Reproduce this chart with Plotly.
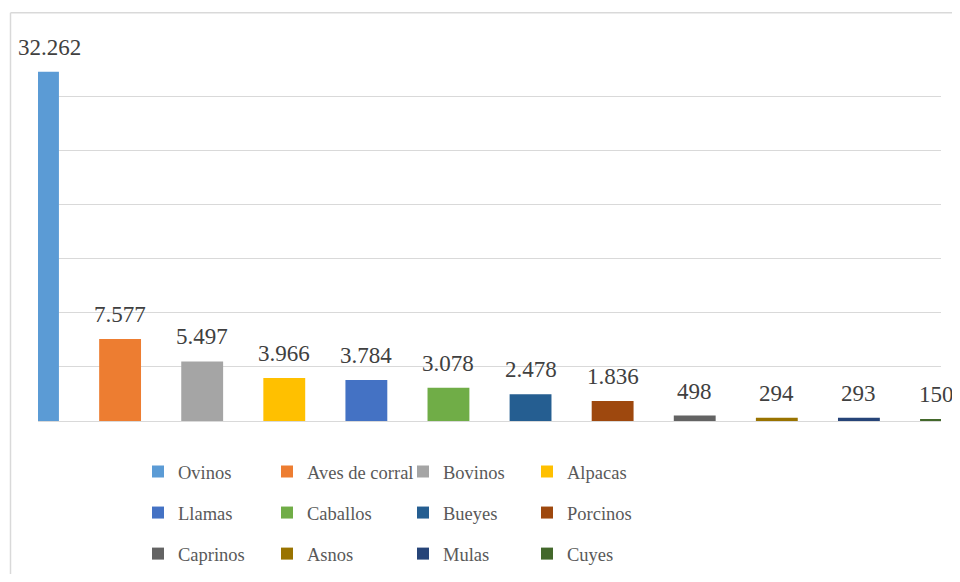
import plotly.graph_objects as go

categories = ["Ovinos", "Aves de corral", "Bovinos", "Alpacas", "Llamas", "Caballos",
              "Bueyes", "Porcinos", "Caprinos", "Asnos", "Mulas", "Cuyes"]
values = [32262, 7577, 5497, 3966, 3784, 3078, 2478, 1836, 498, 294, 293, 150]
value_labels = ["32.262", "7.577", "5.497", "3.966", "3.784", "3.078",
                "2.478", "1.836", "498", "294", "293", "150"]
colors = ["#5B9BD5", "#ED7D31", "#A5A5A5", "#FFC000", "#4472C4", "#70AD47",
          "#255E91", "#9E480E", "#636363", "#997300", "#264478", "#43682B"]

FONT = "Liberation Serif, Times New Roman, serif"
legend_ids = ["legend", "legend2", "legend3", "legend4"]   # one per legend column

# the page body has an 8px margin on every side; size the figure to fit exactly
OFF = 8
FIG_W, FIG_H = 960 - 2 * OFF, 582 - 2 * OFF

fig = go.Figure()
for i, (cat, val, col) in enumerate(zip(categories, values, colors)):
    fig.add_trace(go.Bar(
        x=[cat], y=[val], name=cat, width=0.51,
        marker=dict(color=col, line=dict(width=0)),
        legend=legend_ids[i % 4], legendgroup=cat,
        hoverinfo="x+y",
    ))

n = len(categories)
annotations = []
for i, (cat, val, lab) in enumerate(zip(categories, values, value_labels)):
    shift = 11 if i == 0 else (-5 if i == n - 1 else 0)
    annotations.append(dict(
        x=cat, y=val, xref="x", yref="y", text=lab, showarrow=False,
        yanchor="bottom", xanchor="center", yshift=10, xshift=shift,
        font=dict(family=FONT, size=23, color="#404040"),
    ))

# plot area in page pixels: x 38..941, y 41.7..421
PL, PR, PT, PB = 38, 941, 41.7, 421
plot_w = PR - PL
plot_h = PB - PT

def px_x(p):
    return (p - PL) / plot_w

def px_y(p):
    return (PB - p) / plot_h

legend_cols_x = [138, 267, 403, 527]
legend_top_y = 453
legend_common = dict(
    orientation="v", xanchor="left", yanchor="top",
    tracegroupgap=14,
    font=dict(family=FONT, size=18.5, color="#595959"),
    bgcolor="rgba(0,0,0,0)", borderwidth=0, itemclick=False, itemdoubleclick=False,
)

layout_legends = {}
for lid, px in zip(legend_ids, legend_cols_x):
    layout_legends[lid] = dict(legend_common, x=px_x(px), y=px_y(legend_top_y))

fig.update_layout(
    width=FIG_W, height=FIG_H,
    margin=dict(l=PL - OFF, r=FIG_W - (PR - OFF), t=PT - OFF, b=FIG_H - (PB - OFF),
                autoexpand=False),
    paper_bgcolor="white", plot_bgcolor="white",
    barmode="overlay",
    showlegend=True,
    annotations=annotations,
    xaxis=dict(
        type="category", categoryorder="array", categoryarray=categories,
        range=[0, 11], showticklabels=False, showgrid=False,
        showline=False, zeroline=False, ticks="",
    ),
    yaxis=dict(
        range=[0, 35000], dtick=5000, showticklabels=False,
        showgrid=True, gridcolor="#D9D9D9", gridwidth=1.3,
        zeroline=True, zerolinecolor="#D9D9D9", zerolinewidth=1.3,
        showline=False, ticks="",
    ),
    shapes=[
        dict(type="line", xref="paper", yref="paper",
             x0=px_x(10.5), x1=px_x(10.5), y0=px_y(12.5), y1=px_y(600),
             line=dict(color="#D9D9D9", width=1.5)),
        dict(type="line", xref="paper", yref="paper",
             x0=px_x(10.5), x1=px_x(970), y0=px_y(12.5), y1=px_y(12.5),
             line=dict(color="#D9D9D9", width=1.5)),
    ],
    **layout_legends,
)

fig.write_html("out.html")
